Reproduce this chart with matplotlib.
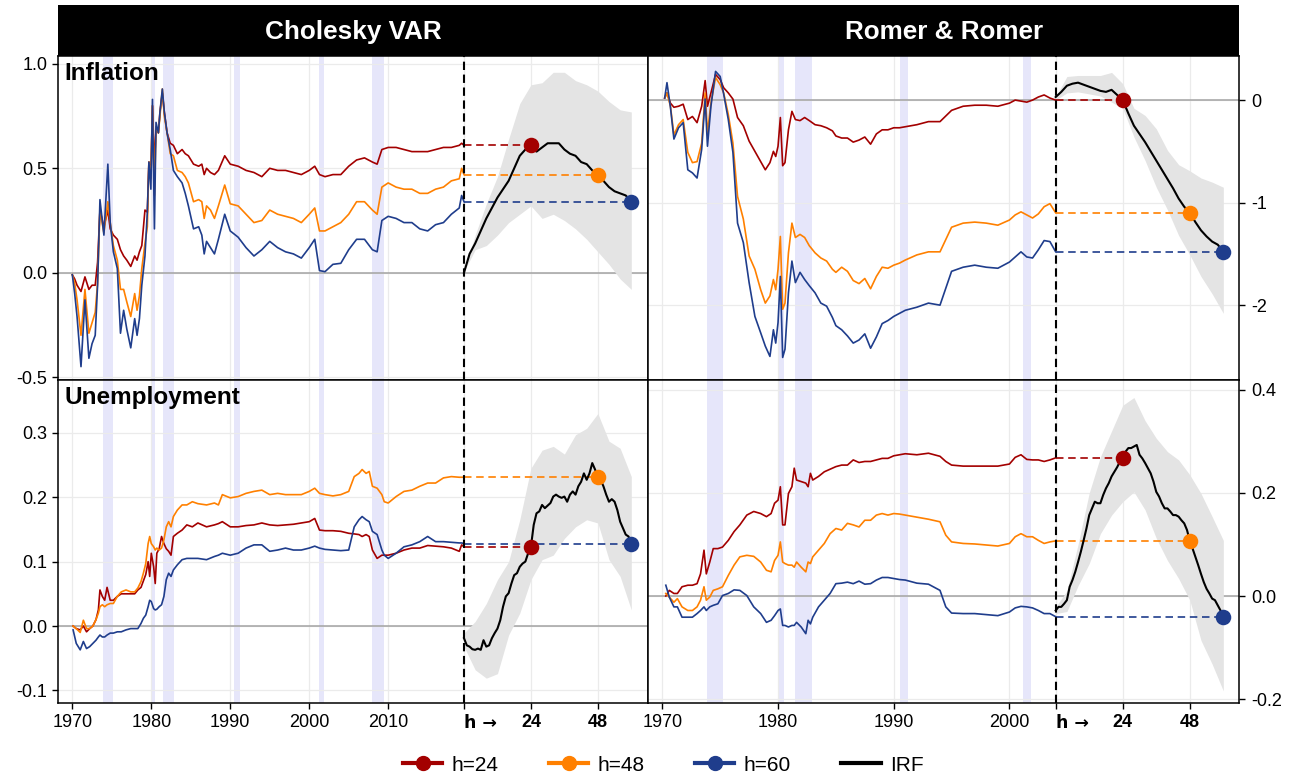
import matplotlib
matplotlib.use("Agg")
import matplotlib.pyplot as plt
from matplotlib.lines import Line2D

plt.rcParams['font.family'] = ['Liberation Sans', 'DejaVu Sans']
plt.rcParams['axes.unicode_minus'] = False

RED = '#a30000'
ORANGE = '#ff8000'
BLUE = '#1f3d8c'
SHADE = '#e6e6fa'
BAND = '#e4e4e4'

# NBER recessions (start, end) in fractional years
recessions = [(1973.9, 1975.2), (1980.0, 1980.5), (1981.5, 1982.9),
              (1990.5, 1991.2), (2001.2, 2001.9), (2007.9, 2009.5)]

# ---------------- Cholesky VAR: inflation ----------------
cv_inf_years = [1970.0, 1970.3, 1970.6, 1971.1, 1971.6, 1972.1, 1972.5, 1972.9, 1973.2, 1973.5,
                1974.0, 1974.5, 1974.8, 1975.2, 1975.7, 1976.1, 1976.5, 1976.9, 1977.4, 1977.9,
                1978.2, 1978.5, 1978.8, 1979.2, 1979.5, 1979.7, 1979.95, 1980.15, 1980.4, 1980.6,
                1980.9, 1981.1, 1981.4, 1981.65, 1982.0, 1982.4, 1982.8, 1983.3, 1983.9, 1984.3,
                1984.7, 1985.35, 1986.0, 1986.4, 1986.7, 1987.0, 1987.5, 1988.0, 1988.5, 1989.3,
                1990, 1991, 1992, 1993, 1994, 1995, 1996, 1997, 1998, 1999,
                2000, 2000.7, 2001.3, 2002, 2003, 2004, 2005, 2006, 2007, 2008,
                2008.6, 2009.2, 2010, 2011, 2012, 2013, 2014, 2015, 2016, 2017,
                2018, 2019, 2019.3, 2019.6]
cv_inf_h24 = [-0.01, -0.03, -0.06, -0.09, -0.02, -0.08, -0.06, -0.06, 0.05, 0.30,
              0.22, 0.30, 0.21, 0.18, 0.16, 0.11, 0.08, 0.06, 0.03, 0.08,
              0.06, 0.10, 0.13, 0.30, 0.29, 0.53, 0.48, 0.80, 0.51, 0.69,
              0.67, 0.77, 0.86, 0.77, 0.67, 0.62, 0.61, 0.57, 0.59, 0.57,
              0.56, 0.52, 0.51, 0.52, 0.47, 0.50, 0.48, 0.47, 0.49, 0.56,
              0.52, 0.51, 0.49, 0.48, 0.46, 0.50, 0.49, 0.49, 0.48, 0.47,
              0.49, 0.51, 0.47, 0.46, 0.47, 0.47, 0.51, 0.54, 0.55, 0.53,
              0.52, 0.59, 0.60, 0.60, 0.59, 0.58, 0.58, 0.58, 0.59, 0.60,
              0.60, 0.61, 0.62, 0.61]
cv_inf_h48 = [-0.01, -0.05, -0.13, -0.30, -0.08, -0.29, -0.24, -0.19, -0.05, 0.30,
              0.19, 0.34, 0.24, 0.13, 0.06, -0.08, -0.08, -0.14, -0.21, -0.10,
              -0.18, -0.11, 0.02, 0.14, 0.22, 0.53, 0.45, 0.80, 0.37, 0.70,
              0.67, 0.75, 0.88, 0.75, 0.67, 0.57, 0.56, 0.49, 0.48, 0.46,
              0.43, 0.34, 0.35, 0.34, 0.26, 0.32, 0.30, 0.26, 0.32, 0.42,
              0.33, 0.32, 0.28, 0.24, 0.25, 0.30, 0.28, 0.27, 0.26, 0.24,
              0.28, 0.31, 0.20, 0.20, 0.22, 0.24, 0.28, 0.34, 0.34, 0.30,
              0.28, 0.41, 0.43, 0.41, 0.40, 0.40, 0.38, 0.38, 0.40, 0.41,
              0.44, 0.45, 0.50, 0.47]
cv_inf_h60 = [-0.01, -0.10, -0.21, -0.45, -0.13, -0.41, -0.34, -0.30, -0.06, 0.35,
              0.18, 0.52, 0.24, 0.10, 0.02, -0.29, -0.18, -0.27, -0.36, -0.22,
              -0.30, -0.22, -0.06, 0.08, 0.29, 0.53, 0.40, 0.83, 0.21, 0.72,
              0.67, 0.77, 0.88, 0.77, 0.67, 0.59, 0.49, 0.46, 0.43, 0.38,
              0.32, 0.21, 0.22, 0.18, 0.09, 0.15, 0.12, 0.09, 0.16, 0.28,
              0.20, 0.17, 0.12, 0.08, 0.11, 0.15, 0.12, 0.10, 0.09, 0.07,
              0.12, 0.16, 0.01, 0.005, 0.04, 0.045, 0.11, 0.16, 0.16, 0.11,
              0.10, 0.25, 0.27, 0.26, 0.24, 0.24, 0.21, 0.20, 0.23, 0.24,
              0.28, 0.31, 0.37, 0.34]
cv_inf_irf_h = list(range(0, 61, 2))
cv_inf_irf = [0.00, 0.09, 0.14, 0.20, 0.26, 0.31, 0.36, 0.40, 0.44, 0.50, 0.56, 0.59, 0.61,
              0.58, 0.60, 0.62, 0.62, 0.62, 0.59, 0.57, 0.56, 0.53, 0.52, 0.49, 0.47,
              0.44, 0.41, 0.39, 0.38, 0.37, 0.34]
cv_inf_band_h = list(range(0, 61, 4))
cv_inf_hi = [0.005, 0.18, 0.33, 0.46, 0.64, 0.81, 0.90, 0.91, 0.96, 0.96, 0.92, 0.90, 0.87, 0.82, 0.78, 0.77]
cv_inf_lo = [0.005, 0.11, 0.13, 0.18, 0.24, 0.28, 0.32, 0.26, 0.28, 0.25, 0.21, 0.16, 0.10, 0.04, -0.03, -0.08]

# ---------------- Romer & Romer: inflation ----------------
rr_inf_years = [1970.2, 1970.4, 1970.7, 1971.0, 1971.4, 1971.8, 1972.2, 1972.6, 1973.0, 1973.4,
                1973.7, 1973.9, 1974.2, 1974.6, 1975.0, 1975.3, 1975.7, 1976.1, 1976.5, 1977.0,
                1977.5, 1978.0, 1978.5, 1978.9, 1979.3, 1979.6, 1979.8, 1980.0, 1980.2, 1980.4,
                1980.6, 1980.9, 1981.2, 1981.5, 1981.9, 1982.3, 1982.7, 1983.2, 1983.7, 1984.2,
                1984.7, 1985.0, 1985.5, 1986.0, 1986.5, 1987.0, 1987.5, 1988.0, 1988.5, 1989.0,
                1989.5, 1990.0, 1990.5, 1991.0, 1992, 1993, 1994, 1995, 1996, 1997,
                1998, 1999, 2000, 2000.5, 2001, 2001.5, 2002, 2002.5, 2003, 2003.5,
                2004]
rr_inf_h24 = [0.02, 0.07, -0.03, -0.07, -0.06, -0.04, -0.19, -0.16, -0.22, -0.06,
              0.19, -0.06, 0.07, 0.25, 0.20, 0.12, 0.07, 0.01, -0.17, -0.25,
              -0.40, -0.50, -0.60, -0.68, -0.61, -0.50, -0.55, -0.45, -0.17, -0.64,
              -0.61, -0.29, -0.11, -0.19, -0.20, -0.17, -0.20, -0.24, -0.25, -0.27,
              -0.30, -0.35, -0.37, -0.37, -0.41, -0.39, -0.36, -0.43, -0.33, -0.29,
              -0.29, -0.27, -0.27, -0.26, -0.24, -0.21, -0.21, -0.10, -0.06, -0.05,
              -0.05, -0.06, -0.03, 0.0, -0.01, -0.02, 0.0, 0.03, 0.05, 0.02,
              0.0]
rr_inf_h48 = [0.02, 0.07, -0.06, -0.34, -0.24, -0.19, -0.51, -0.61, -0.60, -0.42,
              0.07, -0.32, -0.03, 0.22, 0.15, 0.07, -0.14, -0.42, -0.94, -1.16,
              -1.52, -1.65, -1.85, -1.98, -1.91, -1.75, -1.85, -1.65, -1.33, -2.04,
              -1.98, -1.49, -1.20, -1.34, -1.31, -1.34, -1.42, -1.49, -1.54, -1.57,
              -1.65, -1.68, -1.63, -1.67, -1.76, -1.79, -1.74, -1.84, -1.72, -1.63,
              -1.64, -1.61, -1.59, -1.56, -1.51, -1.48, -1.48, -1.24, -1.20, -1.19,
              -1.20, -1.22, -1.17, -1.12, -1.09, -1.12, -1.15, -1.11, -1.04, -1.01,
              -1.10]
rr_inf_h60 = [0.02, 0.17, -0.07, -0.38, -0.27, -0.22, -0.68, -0.71, -0.76, -0.48,
              0.01, -0.45, -0.06, 0.28, 0.23, 0.06, -0.19, -0.51, -1.20, -1.39,
              -1.78, -2.11, -2.27, -2.40, -2.50, -2.24, -2.37, -2.17, -1.72, -2.51,
              -2.43, -1.88, -1.57, -1.78, -1.68, -1.75, -1.81, -1.88, -1.98, -2.01,
              -2.12, -2.20, -2.24, -2.30, -2.37, -2.34, -2.28, -2.42, -2.31, -2.18,
              -2.15, -2.11, -2.08, -2.05, -2.02, -1.98, -2.00, -1.67, -1.63, -1.61,
              -1.63, -1.64, -1.58, -1.53, -1.48, -1.53, -1.54, -1.46, -1.37, -1.38,
              -1.48]
rr_inf_irf_h = list(range(0, 61, 2))
rr_inf_irf = [0.03, 0.08, 0.14, 0.16, 0.17, 0.15, 0.13, 0.11, 0.09, 0.08, 0.10, 0.05, 0.0,
              -0.13, -0.25, -0.33, -0.41, -0.50, -0.59, -0.68, -0.77, -0.86, -0.96, -1.04, -1.10,
              -1.19, -1.27, -1.33, -1.38, -1.41, -1.48]
rr_inf_band_h = list(range(0, 61, 4))
rr_inf_hi = [0.03, 0.23, 0.24, 0.24, 0.24, 0.27, 0.16, -0.08, -0.15, -0.28, -0.49, -0.63, -0.69, -0.76, -0.80, -0.85]
rr_inf_lo = [0.0, 0.07, 0.08, 0.06, 0.04, -0.02, -0.08, -0.36, -0.59, -0.85, -1.07, -1.32, -1.51, -1.72, -1.89, -2.08]

# ---------------- Cholesky VAR: unemployment ----------------
cv_une_years = [1970.1, 1970.5, 1971.0, 1971.4, 1971.8, 1972.2, 1972.6, 1973.0, 1973.3, 1973.5,
                1973.8, 1974.1, 1974.4, 1974.8, 1975.2, 1975.7, 1976.2, 1976.8, 1977.4, 1977.9,
                1978.3, 1978.7, 1979.0, 1979.3, 1979.6, 1979.8, 1980.0, 1980.3, 1980.5, 1980.7,
                1981.0, 1981.3, 1981.6, 1981.9, 1982.2, 1982.5, 1982.8, 1983.3, 1983.9, 1984.5,
                1985.2, 1985.9, 1987, 1988, 1988.5, 1989, 1990, 1991, 1992, 1993,
                1994, 1995, 1996, 1997, 1998, 1999, 2000, 2000.7, 2001.3, 2002,
                2003, 2004, 2005, 2005.7, 2006.3, 2006.7, 2007.2, 2007.6, 2008, 2008.6,
                2009.2, 2009.5, 2010, 2011, 2012, 2013, 2014, 2015, 2016, 2017,
                2018, 2019, 2019.3, 2019.6]
cv_une_h24 = [0.0, -0.004, -0.006, 0.0, -0.009, -0.004, 0.0, 0.01, 0.025, 0.056,
              0.046, 0.04, 0.06, 0.04, 0.04, 0.046, 0.05, 0.05, 0.05, 0.05,
              0.056, 0.06, 0.07, 0.08, 0.10, 0.077, 0.113, 0.092, 0.066, 0.113,
              0.12, 0.139, 0.128, 0.12, 0.116, 0.11, 0.139, 0.144, 0.149, 0.157,
              0.154, 0.16, 0.154, 0.157, 0.159, 0.162, 0.154, 0.154, 0.156, 0.157,
              0.16, 0.157, 0.156, 0.157, 0.158, 0.16, 0.162, 0.167, 0.149, 0.148,
              0.148, 0.147, 0.144, 0.143, 0.142, 0.139, 0.142, 0.139, 0.118, 0.105,
              0.11, 0.11, 0.11, 0.113, 0.118, 0.121, 0.121, 0.125, 0.124, 0.123,
              0.121, 0.116, 0.126, 0.123]
cv_une_h48 = [0.0, -0.004, -0.01, 0.009, -0.004, -0.004, 0.0, 0.01, 0.02, 0.03,
              0.033, 0.03, 0.033, 0.035, 0.035, 0.046, 0.053, 0.056, 0.053, 0.053,
              0.059, 0.069, 0.082, 0.097, 0.128, 0.139, 0.128, 0.123, 0.118, 0.121,
              0.118, 0.121, 0.134, 0.154, 0.162, 0.154, 0.17, 0.18, 0.188, 0.188,
              0.193, 0.19, 0.188, 0.191, 0.188, 0.204, 0.199, 0.201, 0.206, 0.209,
              0.211, 0.204, 0.206, 0.204, 0.204, 0.204, 0.209, 0.214, 0.206, 0.204,
              0.202, 0.204, 0.209, 0.232, 0.237, 0.243, 0.237, 0.24, 0.217, 0.214,
              0.204, 0.193, 0.191, 0.201, 0.209, 0.211, 0.217, 0.222, 0.222, 0.23,
              0.232, 0.231, 0.231, 0.231]
cv_une_h60 = [-0.006, -0.027, -0.037, -0.024, -0.035, -0.032, -0.027, -0.022, -0.017, -0.014,
              -0.017, -0.017, -0.014, -0.011, -0.011, -0.009, -0.009, -0.006, -0.004, -0.004,
              -0.004, 0.004, 0.012, 0.017, 0.03, 0.04, 0.038, 0.027, 0.025, 0.026,
              0.03, 0.033, 0.046, 0.072, 0.082, 0.077, 0.087, 0.095, 0.103, 0.105,
              0.105, 0.105, 0.103, 0.108, 0.11, 0.113, 0.11, 0.113, 0.121, 0.126,
              0.126, 0.116, 0.118, 0.121, 0.118, 0.118, 0.121, 0.124, 0.121, 0.119,
              0.118, 0.117, 0.118, 0.154, 0.165, 0.17, 0.165, 0.162, 0.147, 0.142,
              0.118, 0.11, 0.105, 0.113, 0.123, 0.126, 0.131, 0.139, 0.131, 0.131,
              0.13, 0.129, 0.129, 0.128]
cv_une_irf_h = list(range(0, 61))
cv_une_irf = [-0.019, -0.03, -0.032, -0.036, -0.037, -0.035, -0.037, -0.022, -0.032, -0.03,
              -0.019, -0.011, -0.004, 0.009, 0.03, 0.046, 0.051, 0.066, 0.079, 0.082,
              0.092, 0.097, 0.10, 0.113, 0.123, 0.157, 0.175, 0.178, 0.188, 0.183,
              0.187, 0.191, 0.201, 0.204, 0.201, 0.199, 0.201, 0.193, 0.204, 0.209,
              0.204, 0.217, 0.224, 0.237, 0.227, 0.237, 0.253, 0.243, 0.231, 0.227,
              0.217, 0.204, 0.193, 0.197, 0.193, 0.18, 0.162, 0.152, 0.142, 0.139,
              0.128]
cv_une_band_h = list(range(0, 61, 4))
cv_une_hi = [-0.011, 0.007, 0.035, 0.072, 0.10, 0.165, 0.245, 0.273, 0.279, 0.267, 0.297, 0.307, 0.33, 0.287, 0.276, 0.232]
cv_une_lo = [-0.032, -0.068, -0.081, -0.074, -0.014, 0.02, 0.072, 0.103, 0.11, 0.136, 0.154, 0.165, 0.16, 0.103, 0.077, 0.025]

# ---------------- Romer & Romer: unemployment ----------------
rr_une_years = [1970.3, 1970.6, 1971.0, 1971.3, 1971.7, 1972.2, 1972.6, 1973.0, 1973.3, 1973.6,
                1973.8, 1974.1, 1974.4, 1974.8, 1975.2, 1975.7, 1976.2, 1976.7, 1977.3, 1977.9,
                1978.5, 1979.0, 1979.4, 1979.7, 1980.0, 1980.2, 1980.4, 1980.6, 1980.9, 1981.2,
                1981.4, 1981.6, 1982.0, 1982.4, 1982.6, 1982.8, 1983.0, 1983.5, 1984.0, 1984.5,
                1985.0, 1985.5, 1986.0, 1986.5, 1987.0, 1987.5, 1988.0, 1988.5, 1989.0, 1989.5,
                1990.0, 1990.5, 1991.0, 1992, 1993, 1994, 1994.5, 1995, 1996, 1997,
                1998, 1999, 2000, 2000.5, 2001, 2001.5, 2002, 2002.5, 2003, 2003.5,
                2004]
rr_une_h24 = [0.0, 0.011, 0.005, 0.005, 0.018, 0.021, 0.021, 0.024, 0.043, 0.089,
              0.043, 0.066, 0.092, 0.092, 0.095, 0.108, 0.125, 0.138, 0.157, 0.164,
              0.16, 0.154, 0.16, 0.18, 0.186, 0.212, 0.138, 0.138, 0.199, 0.212,
              0.248, 0.225, 0.222, 0.219, 0.212, 0.238, 0.225, 0.232, 0.241, 0.246,
              0.251, 0.254, 0.254, 0.264, 0.259, 0.261, 0.261, 0.264, 0.267, 0.267,
              0.272, 0.274, 0.276, 0.274, 0.277, 0.271, 0.261, 0.254, 0.252, 0.252,
              0.252, 0.252, 0.256, 0.269, 0.274, 0.265, 0.264, 0.264, 0.261, 0.264,
              0.268]
rr_une_h48 = [0.005, -0.002, -0.012, -0.005, -0.021, -0.028, -0.028, -0.021, -0.008, 0.018,
              -0.008, -0.002, 0.011, 0.014, 0.018, 0.04, 0.06, 0.076, 0.079, 0.077,
              0.066, 0.05, 0.047, 0.069, 0.079, 0.105, 0.066, 0.063, 0.06, 0.06,
              0.056, 0.066, 0.056, 0.047, 0.066, 0.063, 0.076, 0.089, 0.102, 0.121,
              0.131, 0.128, 0.141, 0.138, 0.134, 0.147, 0.147, 0.157, 0.16, 0.157,
              0.16, 0.159, 0.157, 0.153, 0.149, 0.144, 0.118, 0.105, 0.102, 0.101,
              0.099, 0.097, 0.102, 0.115, 0.121, 0.115, 0.115, 0.108, 0.102, 0.105,
              0.107]
rr_une_h60 = [0.021, -0.002, -0.021, -0.021, -0.041, -0.041, -0.041, -0.034, -0.028, -0.021,
              -0.028, -0.021, -0.018, -0.015, 0.001, 0.005, 0.012, 0.011, 0.001, -0.021,
              -0.034, -0.051, -0.047, -0.038, -0.028, -0.025, -0.057, -0.057, -0.06, -0.057,
              -0.057, -0.051, -0.06, -0.073, -0.047, -0.054, -0.041, -0.021, -0.008, 0.005,
              0.024, 0.025, 0.027, 0.024, 0.029, 0.023, 0.024, 0.031, 0.036, 0.036,
              0.034, 0.032, 0.031, 0.025, 0.023, 0.011, -0.021, -0.033, -0.034, -0.034,
              -0.036, -0.038, -0.031, -0.023, -0.02, -0.021, -0.023, -0.028, -0.034, -0.034,
              -0.040]
rr_une_irf_h = list(range(0, 61))
rr_une_irf = [-0.028, -0.021, -0.021, -0.015, -0.008, 0.018, 0.031, 0.047, 0.066, 0.086,
              0.108, 0.131, 0.157, 0.17, 0.183, 0.18, 0.18, 0.196, 0.209, 0.219,
              0.232, 0.241, 0.25, 0.261, 0.268, 0.28, 0.287, 0.287, 0.29, 0.293,
              0.274, 0.267, 0.258, 0.248, 0.238, 0.222, 0.202, 0.193, 0.18, 0.17,
              0.17, 0.164, 0.157, 0.157, 0.154, 0.147, 0.141, 0.128, 0.107, 0.092,
              0.076, 0.06, 0.043, 0.027, 0.014, 0.005, -0.005, -0.008, -0.018, -0.028,
              -0.040]
rr_une_band_h = list(range(0, 61, 4))
rr_une_hi = [-0.021, 0.01, 0.10, 0.20, 0.27, 0.32, 0.37, 0.385, 0.34, 0.306, 0.28, 0.264, 0.235, 0.199, 0.154, 0.108]
rr_une_lo = [-0.034, -0.03, 0.02, 0.063, 0.121, 0.157, 0.183, 0.202, 0.167, 0.112, 0.069, 0.034, -0.008, -0.086, -0.132, -0.184]

# ---------------- layout ----------------
W, H = 1298, 780
fig = plt.figure(figsize=(W / 100, H / 100), dpi=100)

col_x = [(57.7, 648.0), (648.0, 1239.3)]
row_y = [(56.0, 380.0), (380.0, 703.3)]


def rect(x0, x1, y0, y1):
    return [x0 / W, 1 - y1 / H, (x1 - x0) / W, (y1 - y0) / H]


panels = [
    dict(row=0, col=0, years=cv_inf_years, s=(cv_inf_h24, cv_inf_h48, cv_inf_h60),
         irf_h=cv_inf_irf_h, irf=cv_inf_irf, band_h=cv_inf_band_h, lo=cv_inf_lo, hi=cv_inf_hi,
         xd=2019.6, k=0.3531, xlim=(1968.15, 2042.9), ylim=(-0.514, 1.038),
         yt=[-0.5, 0.0, 0.5, 1.0], yl=['-0.5', '0.0', '0.5', '1.0'], title='Inflation'),
    dict(row=0, col=1, years=rr_inf_years, s=(rr_inf_h24, rr_inf_h48, rr_inf_h60),
         irf_h=rr_inf_irf_h, irf=rr_inf_irf, band_h=rr_inf_band_h, lo=rr_inf_lo, hi=rr_inf_hi,
         xd=2004.0, k=0.2415, xlim=(1968.76, 2019.87), ylim=(-2.73, 0.43),
         yt=[-2, -1, 0], yl=['-2', '-1', '0'], title=None),
    dict(row=1, col=0, years=cv_une_years, s=(cv_une_h24, cv_une_h48, cv_une_h60),
         irf_h=cv_une_irf_h, irf=cv_une_irf, band_h=cv_une_band_h, lo=cv_une_lo, hi=cv_une_hi,
         xd=2019.6, k=0.3531, xlim=(1968.15, 2042.9), ylim=(-0.120, 0.382),
         yt=[-0.1, 0.0, 0.1, 0.2, 0.3], yl=['-0.1', '0.0', '0.1', '0.2', '0.3'], title='Unemployment'),
    dict(row=1, col=1, years=rr_une_years, s=(rr_une_h24, rr_une_h48, rr_une_h60),
         irf_h=rr_une_irf_h, irf=rr_une_irf, band_h=rr_une_band_h, lo=rr_une_lo, hi=rr_une_hi,
         xd=2004.0, k=0.2415, xlim=(1968.76, 2019.87), ylim=(-0.208, 0.419),
         yt=[-0.2, 0.0, 0.2, 0.4], yl=['-0.2', '0.0', '0.2', '0.4'], title=None),
]

horizons = [24, 48, 60]
colors = [RED, ORANGE, BLUE]

for p in panels:
    x0, x1 = col_x[p['col']]
    y0, y1 = row_y[p['row']]
    ax = fig.add_axes(rect(x0, x1, y0, y1))
    xd, k = p['xd'], p['k']

    # recession shading, only over the historical part
    for a, b in recessions:
        if a < xd:
            ax.axvspan(a, min(b, xd), color=SHADE, lw=0, zorder=0.5)

    ax.axhline(0, color='#a3a3a3', lw=1.1, zorder=1)

    band_x = [xd + h * k for h in p['band_h']]
    ax.fill_between(band_x, p['lo'], p['hi'], color=BAND, lw=0, zorder=1.2)

    for vals, c in zip(p['s'], colors):
        ax.plot(p['years'], vals, color=c, lw=1.2, zorder=3)

    irf_x = [xd + h * k for h in p['irf_h']]
    ax.plot(irf_x, p['irf'], color='black', lw=1.5, zorder=4)

    for h, c in zip(horizons, colors):
        v = p['irf'][p['irf_h'].index(h)]
        ax.plot([xd, xd + h * k], [v, v], color=c, lw=1.2, ls=(0, (4.5, 2.8)), zorder=3.5)
        ax.scatter([xd + h * k], [v], s=125, color=c, zorder=6, linewidths=0)

    ax.axvline(xd, color='black', lw=1.5, ls=(0, (4, 2.2)), zorder=5)

    ax.set_xlim(p['xlim'])
    ax.set_ylim(p['ylim'])

    if p['col'] == 0:
        xt = [1970, 1980, 1990, 2000, 2010]
    else:
        xt = [1970, 1980, 1990, 2000]
    xt_all = xt + [xd, xd + 24 * k, xd + 48 * k]
    ax.set_xticks(xt_all)
    ax.set_yticks(p['yt'])
    ax.set_yticklabels(p['yl'])

    ax.grid(True, color='#ebebeb', lw=0.9)
    ax.set_axisbelow(True)
    for sp in ax.spines.values():
        sp.set_color('black')
        sp.set_linewidth(1.1)

    ax.tick_params(axis='both', direction='out', length=4.5, width=1.0,
                   labelsize=13, colors='black', pad=3)
    if p['col'] == 1:
        ax.yaxis.tick_right()
        ax.tick_params(axis='y', length=4.5, width=1.0, labelsize=13, pad=4)

    if p['row'] == 0:
        ax.tick_params(axis='x', length=0, labelbottom=False)
    else:
        ax.set_xticklabels([str(v) for v in xt] + ['h \u2192', '24', '48'])
        labels = ax.get_xticklabels()
        for lab in labels[len(xt):]:
            lab.set_fontweight('bold')
        labels[len(xt)].set_horizontalalignment('left')
        labels[len(xt)].set_family(['DejaVu Sans'])
        labels[len(xt)].set_fontsize(12.5)

    if p['title']:
        ax.text(0.011, 0.982, p['title'], transform=ax.transAxes, ha='left', va='top',
                fontsize=17.5, fontweight='bold', color='black', zorder=10)

# column headers
for (x0, x1), name in zip(col_x, ['Cholesky VAR', 'Romer & Romer']):
    hax = fig.add_axes(rect(x0, x1, 5.0, 56.0))
    hax.set_facecolor('black')
    hax.set_xticks([])
    hax.set_yticks([])
    for sp in hax.spines.values():
        sp.set_visible(False)
    hax.text(0.5, 0.47, name, transform=hax.transAxes, ha='center', va='center',
             color='white', fontsize=18.8, fontweight='bold')

handles = [Line2D([0], [0], color=c, lw=3, marker='o', markersize=10) for c in colors]
handles.append(Line2D([0], [0], color='black', lw=3))
fig.legend(handles, ['h=24', 'h=48', 'h=60', 'IRF'], loc='center',
           bbox_to_anchor=(0.511, 0.019), ncol=4, frameon=False, fontsize=15,
           handlelength=1.9, handletextpad=0.45, columnspacing=2.4)

fig.savefig('out.png', dpi=100)
